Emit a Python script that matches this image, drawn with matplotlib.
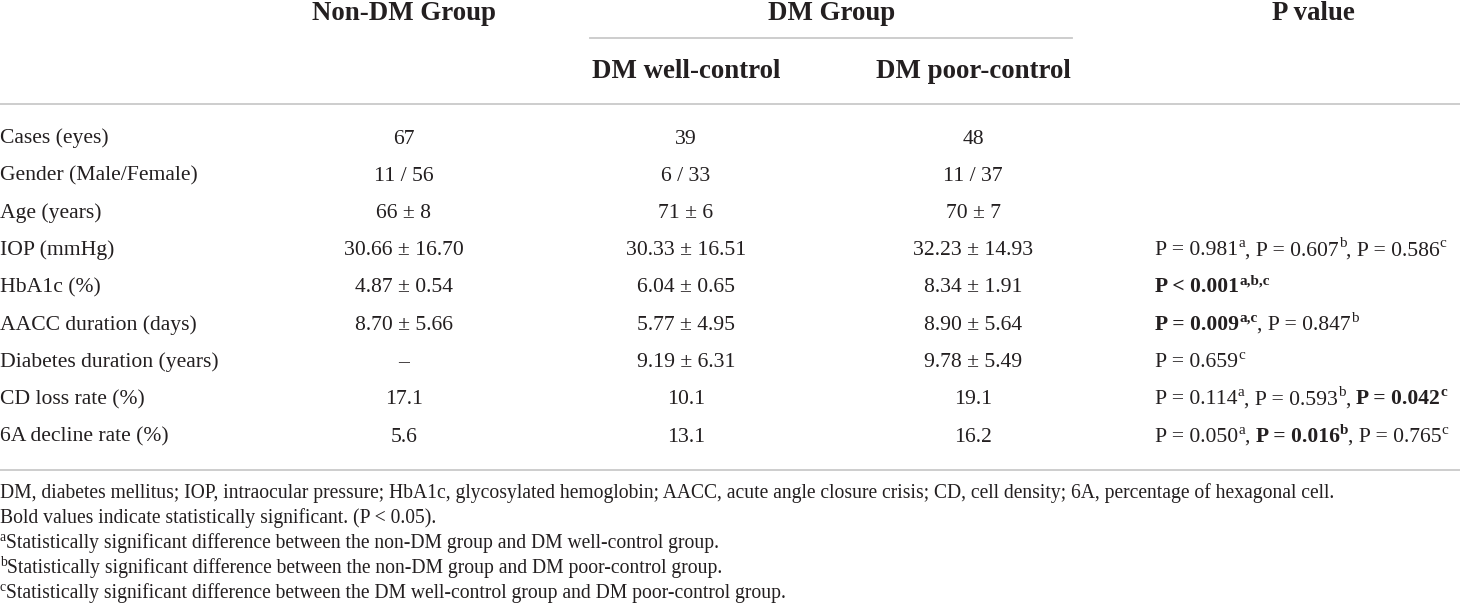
import matplotlib
matplotlib.use("Agg")
import matplotlib.pyplot as plt

plt.rcParams["font.family"] = ["Liberation Serif", "DejaVu Serif"]

TEXT_COLOR = "#231f20"
RULE_COLOR = "#c9c9c9"

# table content
group_headers = ["Non-DM Group", "DM Group", "P value"]
sub_headers = ["DM well-control", "DM poor-control"]

row_labels = ["Cases (eyes)", "Gender (Male/Female)", "Age (years)", "IOP (mmHg)",
              "HbA1c (%)", "AACC duration (days)", "Diabetes duration (years)",
              "CD loss rate (%)", "6A decline rate (%)"]
non_dm = ["67", "11 / 56", "66 ± 8", "30.66 ± 16.70", "4.87 ± 0.54", "8.70 ± 5.66",
          "–", "17.1", "5.6"]
dm_well = ["39", "6 / 33", "71 ± 6", "30.33 ± 16.51", "6.04 ± 0.65", "5.77 ± 4.95",
           "9.19 ± 6.31", "10.1", "13.1"]
dm_poor = ["48", "11 / 37", "70 ± 7", "32.23 ± 14.93", "8.34 ± 1.91", "8.90 ± 5.64",
           "9.78 ± 5.49", "19.1", "16.2"]

# p value cells as (text, bold, superscript) pieces
p_values = [
    [], [], [],
    [("P = 0.981", 0, 0), ("a", 0, 1), (", P = 0.607", 0, 0), ("b", 0, 1),
     (", P = 0.586", 0, 0), ("c", 0, 1)],
    [("P < 0.001", 1, 0), ("a,b,c", 1, 1)],
    [("P = 0.009", 1, 0), ("a,c", 1, 1), (", P = 0.847", 0, 0), ("b", 0, 1)],
    [("P = 0.659", 0, 0), ("c", 0, 1)],
    [("P = 0.114", 0, 0), ("a", 0, 1), (", P = 0.593", 0, 0), ("b", 0, 1),
     (", ", 0, 0), ("P = 0.042", 1, 0), ("c", 1, 1)],
    [("P = 0.050", 0, 0), ("a", 0, 1), (", ", 0, 0), ("P = 0.016", 1, 0), ("b", 1, 1),
     (", P = 0.765", 0, 0), ("c", 0, 1)],
]

footnotes = [
    [("DM, diabetes mellitus; IOP, intraocular pressure; HbA1c, glycosylated hemoglobin; "
      "AACC, acute angle closure crisis; CD, cell density; 6A, percentage of hexagonal cell.", 0, 0)],
    [("Bold values indicate statistically significant. (P < 0.05).", 0, 0)],
    [("a", 0, 1), ("Statistically significant difference between the non-DM group and DM well-control group.", 0, 0)],
    [("b", 0, 1), ("Statistically significant difference between the non-DM group and DM poor-control group.", 0, 0)],
    [("c", 0, 1), ("Statistically significant difference between the DM well-control group and DM poor-control group.", 0, 0)],
]

W, H = 1460, 606
fig = plt.figure(figsize=(W / 100, H / 100), dpi=100)
ax = fig.add_axes([0, 0, 1, 1])
ax.set_xlim(0, W)
ax.set_ylim(H, 0)
ax.axis("off")
renderer = fig.canvas.get_renderer()

BODY = 15.6
HEAD = 19.4
NOTE = 14.1
PX = 100 / 72  # pixels per point


def draw_pieces(x, y, pieces, size):
    for txt, bold, sup in pieces:
        fs = size * 0.7 if sup else size
        yy = y - size * PX * 0.36 if sup else y
        t = ax.text(x, yy, txt, fontsize=fs, color=TEXT_COLOR, va="baseline", ha="left",
                    fontweight="bold" if bold else "normal")
        x += t.get_window_extent(renderer).width


col_x = [404, 686, 973]
p_x = 1155

# headers
ax.text(col_x[0], 20, group_headers[0], fontsize=HEAD, fontweight="bold", color=TEXT_COLOR,
        ha="center", va="baseline")
ax.text(832, 20, group_headers[1], fontsize=HEAD, fontweight="bold", color=TEXT_COLOR,
        ha="center", va="baseline")
ax.text(1313, 20, group_headers[2], fontsize=HEAD, fontweight="bold", color=TEXT_COLOR,
        ha="center", va="baseline")
for cx, lab in zip(col_x[1:], sub_headers):
    ax.text(cx, 78, lab, fontsize=HEAD, fontweight="bold", color=TEXT_COLOR,
            ha="center", va="baseline")

ax.plot([590, 1072], [38, 38], color=RULE_COLOR, lw=1.3)
ax.plot([0, W], [104, 104], color=RULE_COLOR, lw=1.3)
ax.plot([0, W], [470, 470], color=RULE_COLOR, lw=1.3)

# body rows
for i, lab in enumerate(row_labels):
    y = 143.5 + 37.25 * i
    ax.text(0, y, lab, fontsize=BODY, color=TEXT_COLOR, ha="left", va="baseline")
    for cx, col in zip(col_x, [non_dm, dm_well, dm_poor]):
        ax.text(cx, y, col[i], fontsize=BODY, color=TEXT_COLOR, ha="center", va="baseline")
    draw_pieces(p_x, y, p_values[i], BODY)

# footnotes
for j, note in enumerate(footnotes):
    draw_pieces(0, 498 + 25 * j, note, NOTE)

fig.savefig("out.png", dpi=100)
